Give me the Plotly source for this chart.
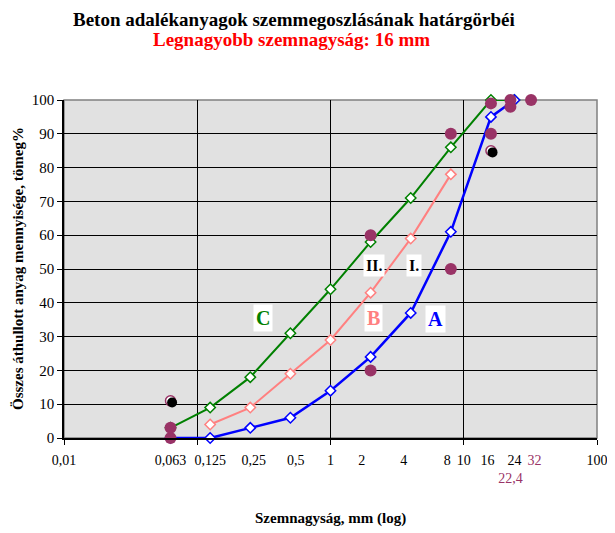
import numpy as np
import plotly.graph_objects as go

# grain sizes (mm) and limit curves, % passing
sizes = [0.063, 0.125, 0.25, 0.5, 1, 2, 4, 8, 16, 24]
curve_a = [0, 0, 3, 6, 14, 24, 37, 61, 95, 100]
curve_b = [None, 4, 9, 19, 29, 43, 59, 78, None, None]
curve_c = [3, 9, 18, 31, 44, 58, 71, 86, 100, 100]

# zone limit points (I., II.)
limit_x = [0.063, 0.063, 2, 2, 8, 8, 16, 16, 22.4, 22.4, 32]
limit_y = [0, 3, 20, 60, 50, 90, 90, 99, 98, 100, 100]

# open (shadowed) points
open_x = [0.063, 16]
open_y = [11, 85]

NB = "&nbsp;"
tick_vals = [0.01, 0.063, 0.125, 0.25, 0.5, 1, 2, 4, 8, 10, 16, 22.4, 24, 32, 100]
tick_text = ["0,01", "0,063", "0,125", NB * 2 + "0,25", NB * 3 + "0,5", "1",
             "2" + NB * 5, "4" + NB * 4, "8" + NB * 2, "10", "16" + NB * 2,
             "<br><span style='color:#993366'>22,4</span>", "24",
             "<span style='color:#993366'>" + NB * 2 + "32</span>", "100"]

# curve labels: text, x (mm), y (%), colour, size
labels = [
    ("C", 0.31, 35.5, "#008000", 20),
    ("B", 2.12, 35.5, "#ff8080", 20),
    ("A", 6.1, 35.2, "#0000ff", 20),
    ("II.", 2.12, 50.9, "black", 16),
    ("I.", 4.24, 50.9, "black", 16),
]

SERIF = "Liberation Serif"
PURPLE = "#993366"

fig = go.Figure()

fig.add_trace(go.Scatter(
    x=sizes, y=curve_c, mode="lines+markers", line=dict(color="#008000", width=2),
    marker=dict(symbol="diamond", size=8, color="white", line=dict(color="#008000", width=1.5)),
    cliponaxis=False,
))
fig.add_trace(go.Scatter(
    x=sizes, y=curve_b, mode="lines+markers", line=dict(color="#ff8080", width=2),
    marker=dict(symbol="diamond", size=8, color="white", line=dict(color="#ff8080", width=1.5)),
    cliponaxis=False,
))
fig.add_trace(go.Scatter(
    x=sizes, y=curve_a, mode="lines+markers", line=dict(color="#0000ff", width=2.5),
    marker=dict(symbol="diamond", size=8, color="white", line=dict(color="#0000ff", width=1.5)),
    cliponaxis=False,
))
fig.add_trace(go.Scatter(
    x=limit_x, y=limit_y, mode="markers",
    marker=dict(symbol="circle", size=12, color=PURPLE),
    cliponaxis=False,
))
# shadow on a slightly shifted copy of the axes
fig.add_trace(go.Scatter(
    x=open_x, y=open_y, mode="markers", xaxis="x2", yaxis="y2",
    marker=dict(symbol="circle", size=10, color="black"),
    cliponaxis=False,
))
fig.add_trace(go.Scatter(
    x=open_x, y=open_y, mode="markers",
    marker=dict(symbol="circle", size=10, color="white", line=dict(color=PURPLE, width=1.5)),
    cliponaxis=False,
))

for txt, lx, ly, col, sz in labels:
    fig.add_annotation(
        x=np.log10(lx), y=ly, text=f"<b>{txt}</b>", showarrow=False,
        font=dict(family=SERIF, size=sz, color=col), bgcolor="white", borderpad=2,
    )

fig.add_annotation(
    x=0.432, y=1.0, xref="paper", yref="paper", yanchor="middle", yshift=81,
    text="<b>Beton adalékanyagok szemmegoszlásának határgörbéi</b>", showarrow=False,
    font=dict(family=SERIF, size=19, color="black"),
)
fig.add_annotation(
    x=0.426, y=1.0, xref="paper", yref="paper", yanchor="middle", yshift=61,
    text="<b>Legnagyobb szemnagyság: 16 mm</b>", showarrow=False,
    font=dict(family=SERIF, size=19, color="red"),
)
fig.add_annotation(
    x=0.5, y=0, xref="paper", yref="paper", yanchor="middle", yshift=-80,
    text="<b>Szemnagyság, mm (log)</b>", showarrow=False,
    font=dict(family=SERIF, size=15, color="black"),
)
fig.add_annotation(
    x=0, y=0.5, xref="paper", yref="paper", xanchor="center", xshift=-46,
    text="<b>Összes áthullott anyag mennyisége, tömeg%</b>", showarrow=False, textangle=-90,
    font=dict(family=SERIF, size=15, color="black"),
)

# page body adds an 8px offset, so the figure is 8px smaller and margins shifted
fig.update_layout(
    width=607, height=525,
    margin=dict(l=56, r=18, t=92, b=95),
    paper_bgcolor="white", plot_bgcolor="#e1e1e1",
    showlegend=False,
    font=dict(family=SERIF, size=15, color="black"),
    xaxis=dict(
        type="log", range=[-2, 2], tickvals=tick_vals, ticktext=tick_text,
        ticks="", tickangle=0, ticklabelstandoff=8, showgrid=False, zeroline=False,
        showline=True, linecolor="black", linewidth=1.5, automargin=False,
        minor=dict(tickvals=[0.01, 0.1, 1, 10, 100], ticks="outside", ticklen=5,
                   tickcolor="black", showgrid=True, gridcolor="black", gridwidth=1),
        tickfont=dict(family=SERIF, size=14),
    ),
    yaxis=dict(
        range=[0, 100], dtick=10, ticks="outside", ticklen=5, tickcolor="black",
        showgrid=True, gridcolor="black", gridwidth=1, zeroline=False,
        showline=True, linecolor="black", linewidth=1.5, automargin=False,
        tickfont=dict(family=SERIF, size=15),
    ),
    xaxis2=dict(type="log", range=[-2 - 0.012, 2 - 0.012], overlaying="x",
                visible=False, anchor="y2"),
    yaxis2=dict(range=[0.5, 100.5], overlaying="y", visible=False, anchor="x2"),
    shapes=[dict(type="rect", xref="paper", yref="paper", x0=0, x1=1, y0=0, y1=1,
                 line=dict(color="#808080", width=1.5), layer="below")],
)

fig.write_html("out.html")
